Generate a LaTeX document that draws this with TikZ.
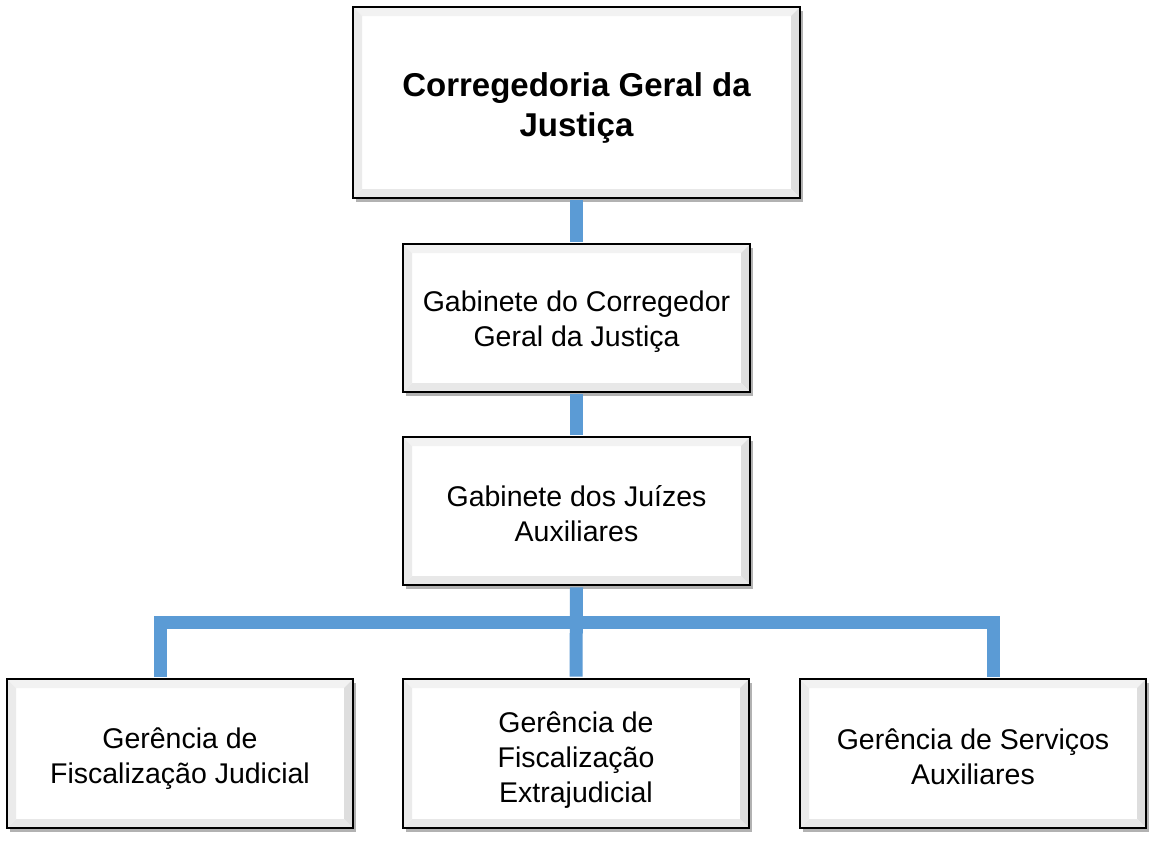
\documentclass[tikz,border=0pt]{standalone}
\usepackage{fontspec}
\setmainfont{Liberation Sans}
\usetikzlibrary{shadows}
\definecolor{conblue}{RGB}{91,155,213}
\newcommand{\lowr}[1]{\rule{0pt}{#1}}
\begin{document}
\begin{tikzpicture}[x=1pt,y=-1pt,
  orgbox/.style={draw=black, line width=2.4pt, fill=white, inner sep=0pt,
    align=center, font=\fontsize{28.5}{35}\selectfont,
    drop shadow={shadow xshift=3pt, shadow yshift=-4pt, fill=black, opacity=0.3},
    path picture={
      \coordinate (nw) at (path picture bounding box.north west);
      \coordinate (ne) at (path picture bounding box.north east);
      \coordinate (sw) at (path picture bounding box.south west);
      \coordinate (se) at (path picture bounding box.south east);
      \fill[black!5] (nw) -- (ne) -- ([xshift=-9pt,yshift=-9pt]ne) -- ([xshift=9pt,yshift=-9pt]nw) -- cycle;
      \fill[black!8] (nw) -- (sw) -- ([xshift=9pt,yshift=9pt]sw) -- ([xshift=9pt,yshift=-9pt]nw) -- cycle;
      \fill[black!13] (ne) -- (se) -- ([xshift=-9pt,yshift=9pt]se) -- ([xshift=-9pt,yshift=-9pt]ne) -- cycle;
      \fill[black!9] (sw) -- (se) -- ([xshift=-9pt,yshift=9pt]se) -- ([xshift=9pt,yshift=9pt]sw) -- cycle;
    }},
  conn/.style={draw=conblue, line width=13pt, line join=miter}
]
\useasboundingbox (0,0) rectangle (1162,844);
\fill[white] (0,0) rectangle (1162,844);

\node[orgbox, minimum width=447pt, minimum height=191pt,
  font=\bfseries\fontsize{33}{40}\selectfont] (top) at (576.5,102.5)
  {\lowr{34pt}Corregedoria Geral da\\Justiça};
\node[orgbox, minimum width=347pt, minimum height=148pt] (gab) at (576.5,318)
  {\lowr{29pt}Gabinete do Corregedor\\Geral da Justiça};
\node[orgbox, minimum width=347pt, minimum height=148pt] (juiz) at (576.5,511)
  {\lowr{27pt}Gabinete dos Juízes\\Auxiliares};
\node[orgbox, minimum width=346pt, minimum height=149pt] (gfj) at (180,753.5)
  {\lowr{31pt}Gerência de\\Fiscalização Judicial};
\node[orgbox, minimum width=346pt, minimum height=149pt] (gfe) at (576,753.5)
  {\lowr{33pt}Gerência de\\Fiscalização\\Extrajudicial};
\node[orgbox, minimum width=346pt, minimum height=149pt] (gsa) at (973,753.5)
  {\lowr{28pt}Gerência de Serviços\\Auxiliares};

\coordinate (jl) at (160,622);
\coordinate (jr) at (993.5,622);

\draw[conn] ([yshift=-1.2pt]top.south) -- ([yshift=1.2pt]gab.north);
\draw[conn] ([yshift=-1.2pt]gab.south) -- ([yshift=1.2pt]juiz.north);
\draw[conn] ([yshift=-1.2pt]juiz.south) -- ([yshift=1.2pt]gfe.north);
\draw[conn] ([yshift=1.2pt]jl |- gfj.north) -- (jl) -- (jr) -- ([yshift=1.2pt]jr |- gsa.north);
\end{tikzpicture}
\end{document}
